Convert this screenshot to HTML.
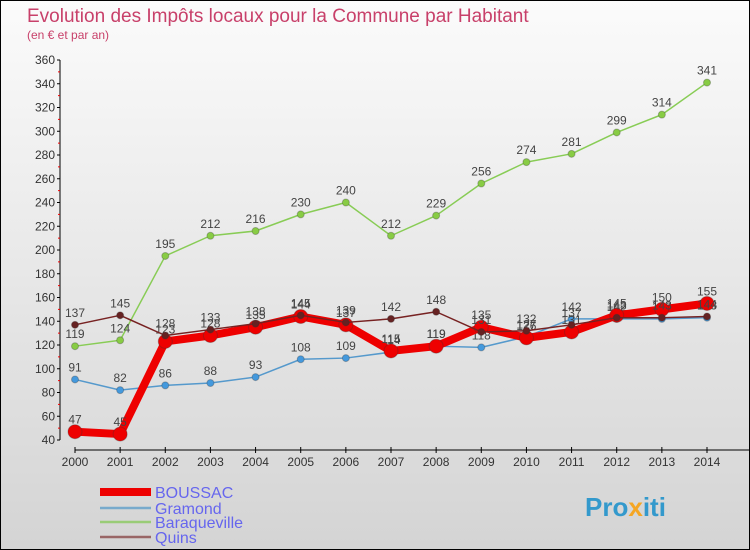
<!DOCTYPE html>
<html><head><meta charset="utf-8"><style>
body{margin:0}
#c{width:750px;height:550px;position:relative;box-sizing:border-box;border:1px solid #000;background:linear-gradient(#fbfbfb,#d4d4d4);font-family:"Liberation Sans",sans-serif;overflow:hidden}
</style></head><body>
<div id="c">
<svg id="s" width="750" height="550" style="position:absolute;left:-1px;top:-1px">
<text x="27" y="22" font-size="19" fill="#c8406a">Evolution des Impôts locaux pour la Commune par Habitant</text>
<text x="27" y="39" font-size="12" fill="#c8406a">(en € et par an)</text>
<g id="axes"></g><g id="series"></g><g id="legend"></g>
<text x="585" y="516" font-size="26" font-weight="bold" fill="#3399cc">Pro<tspan fill="#f5a623">x</tspan>iti</text>
</svg>
</div>
<script>
const years=[2000,2001,2002,2003,2004,2005,2006,2007,2008,2009,2010,2011,2012,2013,2014];
const yTicks=[40,60,80,100,120,140,160,180,200,220,240,260,280,300,320,340,360];
const boussac=[47,45,123,128,135,144,137,115,119,135,126,131,145,150,155];
const gramond=[91,82,86,88,93,108,109,114,119,118,127,142,142,142,143];
const baraqueville=[119,124,195,212,216,230,240,212,229,256,274,281,299,314,341];
const quins=[137,145,128,133,138,145,139,142,148,131,132,137,143,143,144];
const NS="http://www.w3.org/2000/svg";
const X=i=>75+i*(632/14);
const Y=v=>440-(v-40)*(380/320);
function mk(t,a,p){const e=document.createElementNS(NS,t);for(const k in a)e.setAttribute(k,a[k]);p.appendChild(e);return e;}
const ax=document.getElementById('axes');
const yl=mk('line',{x1:60,y1:60,x2:60,y2:440,stroke:'#000'},ax);


yTicks.forEach(v=>{mk('line',{x1:57,y1:Y(v),x2:60,y2:Y(v),stroke:'#000'},ax);
 if(v<360)mk('line',{x1:58,y1:Y(v+10),x2:60,y2:Y(v+10),stroke:'#e00'},ax);
 const t=mk('text',{x:55,y:Y(v)+4,'font-size':12,'text-anchor':'end',fill:'#333'},ax);t.textContent=v;
 
 });
const xl=mk('line',{x1:75,y1:450,x2:750,y2:450,stroke:'#000'},ax);


years.forEach((y,i)=>{mk('line',{x1:X(i),y1:447,x2:X(i),y2:453,stroke:'#000'},ax);
 const t=mk('text',{x:X(i),y:466,'font-size':12,'text-anchor':'middle',fill:'#333'},ax);t.textContent=y;
 
 });
const sg=document.getElementById('series');
const series=[
 {n:'baraqueville',d:baraqueville,c:'#88cc55',w:1.5,r:3.5,f:'#88cc44'},
 {n:'gramond',d:gramond,c:'#5599cc',w:1.5,r:3.5,f:'#4499dd'},
 {n:'boussac',d:boussac,c:'#ee0000',w:8,r:7,f:'#ee0000'},
 {n:'quins',d:quins,c:'#772222',w:1.5,r:3.5,f:'#662222'}];
series.forEach(s=>{
 const g=mk('g',{},sg);
 
 
 const pl=mk('polyline',{points:s.d.map((v,i)=>X(i)+','+Y(v)).join(' '),fill:'none',stroke:s.c,'stroke-width':s.w,'stroke-linejoin':'round'},g);
 
 
 s.d.forEach((v,i)=>{const c=mk('circle',{cx:X(i),cy:Y(v),r:s.r,fill:s.f,stroke:'#333','stroke-opacity':0.3},g);
  
  
  const t=mk('text',{x:X(i),y:Y(v)-8,'font-size':12,'text-anchor':'middle',fill:'#444'},g);t.textContent=v;
  
  });
});
const lg=document.getElementById('legend');
[['BOUSSAC','#ee0000',8,492],['Gramond','#77aacc',2.5,508],['Baraqueville','#99cc77',2.5,522],['Quins','#996666',2.5,537]].forEach(l=>{
 const g=mk('g',{},lg);
 
 
 mk('line',{x1:100,y1:l[3],x2:151,y2:l[3],stroke:l[1],'stroke-width':l[2]},g);
 const t=mk('text',{x:155,y:l[3]+6,'font-size':16,fill:'#6666ee'},g);t.textContent=l[0];
});
</script>
</body></html>
